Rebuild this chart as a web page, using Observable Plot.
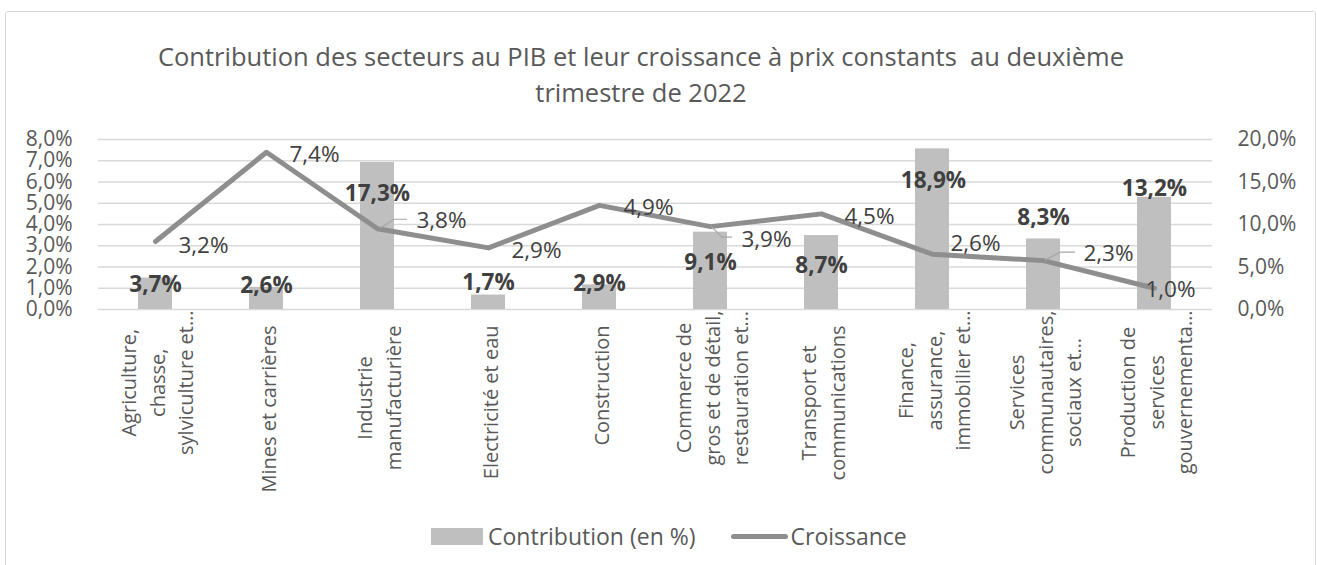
<!DOCTYPE html>
<html>
<head>
<meta charset="utf-8">
<script src="https://cdn.jsdelivr.net/npm/d3@7"></script>
<script src="https://cdn.jsdelivr.net/npm/@observablehq/plot@0.6"></script>
<style>
html, body { margin: 0; padding: 0; background: #fff; overflow: hidden; }
#wrap { position: relative; width: 1317px; height: 565px; font-family: 'Open Sans', sans-serif; }
#frame { position: absolute; left: 5px; top: 11px; width: 1311px; height: 620px; border: 1px solid #d9d9d9; border-radius: 3px; box-sizing: border-box; }
#chart { position: absolute; left: 0; top: 0; }
#title { position: absolute; left: 0; top: 38px; width: 1282px; text-align: center; font-size: 25.5px; line-height: 36px; color: #595959; white-space: pre; }
#legend { position: absolute; left: 431px; top: 522px; display: flex; align-items: center; font-size: 23px; line-height: 28px; color: #595959; white-space: nowrap; }
.sw-bar { width: 52px; height: 17px; background: #bfbfbf; margin-right: 5px; }
.sw-line { width: 57px; height: 5px; border-radius: 3px; background: #8e8e8e; margin-left: 35px; margin-right: 3px; }
</style>
</head>
<body>
<div id="wrap">
  <div id="frame"></div>
  <div id="chart"></div>
  <div id="title"></div>
  <div id="legend"></div>
</div>
<script>
// ---------- data ----------
const titleText = "Contribution des secteurs au PIB et leur croissance à prix constants  au deuxième\ntrimestre de 2022";
const sectors = [
  "Agriculture,\nchasse,\nsylviculture et…",
  "Mines et carrières",
  "Industrie\nmanufacturière",
  "Electricité et eau",
  "Construction",
  "Commerce de\ngros et de détail,\nrestauration et…",
  "Transport et\ncommunications",
  "Finance,\nassurance,\nimmobilier et…",
  "Services\ncommunautaires,\nsociaux et…",
  "Production de\nservices\ngouvernementa…"
];
const contribution = [3.7, 2.6, 17.3, 1.7, 2.9, 9.1, 8.7, 18.9, 8.3, 13.2]; // right axis
const croissance = [3.2, 7.4, 3.8, 2.9, 4.9, 3.9, 4.5, 2.6, 2.3, 1.0];       // left axis
const leftTicks = [0, 1, 2, 3, 4, 5, 6, 7, 8];
const rightTicks = [0, 5, 10, 15, 20];
const seriesNames = ["Contribution (en %)", "Croissance"];

// ---------- layout / style (not data) ----------
const W = 1317, H = 565;
const M = {top: 139, right: 105, bottom: 256, left: 98};
const BAR = "#bfbfbf", LINE = "#8e8e8e", GRID = "#d9d9d9", AXIS_TXT = "#595959", LBL = "#404040";
const FONT = "'Open Sans', sans-serif";
const TICK_FS = 21, LBL_FS = 22.5, X_FS = 20;
// label offsets relative to their anchor (bar top / line point), in px
const barLabelOffsets = [[0,7],[0,-2],[0,31],[0,-12],[0,-1],[0,31],[0,30],[1,32],[0,-21],[0,-9]];
const lineLabelOffsets = [[48,4],[48,3],[64,-8],[48,3],[49,2],[56,13],[48,3],[43,-10],[65,-7],[16,2]];
const leaderPaths = {2: [[3,0],[17,-9],[30,-9]], 5: [[1,0],[12,11],[22,11]], 8: [[2,0],[17,-8],[32,-8]]};

const ratio = leftTicks[leftTicks.length - 1] / rightTicks[rightTicks.length - 1];
const fmt = v => v.toFixed(1).replace(".", ",") + "%";
const data = sectors.map((s, i) => ({sector: s, contribution: contribution[i], croissance: croissance[i]}));

// x labels: measure longest line so the block hangs below the axis, lines centred
const ctx = document.createElement("canvas").getContext("2d");
ctx.font = `${X_FS}px 'Open Sans'`;
const xLabelMarks = sectors.map(s => {
  const lines = s.split("\n");
  const maxW = Math.max(...lines.map(l => ctx.measureText(l).width));
  const truncated = s.endsWith("…");
  const top = truncated ? 1 : 16;
  return Plot.text([s], {
    x: d => d, frameAnchor: "bottom", rotate: -90, textAnchor: "middle", lineAnchor: "middle",
    lineHeight: 1.42, fontSize: X_FS, fill: AXIS_TXT, dy: top + maxW / 2
  });
});

const barLabelMarks = data.map((d, i) => Plot.text([d], {
  x: "sector", y: r => r.contribution * ratio, text: r => fmt(r.contribution),
  dx: barLabelOffsets[i][0], dy: barLabelOffsets[i][1],
  fontSize: LBL_FS, fontWeight: "bold", fill: LBL, textAnchor: "middle"
}));
const lineLabelMarks = data.map((d, i) => Plot.text([d], {
  x: "sector", y: "croissance", text: r => fmt(r.croissance),
  dx: lineLabelOffsets[i][0], dy: lineLabelOffsets[i][1],
  fontSize: LBL_FS, fill: LBL, textAnchor: "middle"
}));

// leader lines for some line labels (drawn through the scales)
function leaders(index, scales) {
  const sx = scales.x, sy = scales.y;
  const half = sx.bandwidth ? sx.bandwidth() / 2 : 0;
  const g = d3.create("svg:g");
  Object.entries(leaderPaths).forEach(([k, pts]) => {
    const d = data[+k];
    const x0 = sx(d.sector) + half, y0 = sy(d.croissance);
    g.append("path")
      .attr("d", d3.line()(pts.map(([dx, dy]) => [x0 + dx, y0 + dy])))
      .attr("fill", "none").attr("stroke", "#a6a6a6").attr("stroke-width", 1.2);
  });
  return g.node();
}

const chart = Plot.plot({
  width: W, height: H,
  marginTop: M.top, marginRight: M.right, marginBottom: M.bottom, marginLeft: M.left,
  style: {fontFamily: FONT, background: "transparent", overflow: "visible"},
  x: {domain: sectors, paddingInner: 0.69, paddingOuter: 0.345, axis: null},
  y: {domain: [0, leftTicks[leftTicks.length - 1]], axis: null},
  marks: [
    Plot.gridY(leftTicks, {stroke: GRID, strokeOpacity: 1, strokeWidth: 1.3}),
    Plot.axisY(leftTicks, {anchor: "left", label: null, tickSize: 0, tickPadding: 26, tickFormat: fmt,
      fontSize: TICK_FS, fill: AXIS_TXT}),
    Plot.axisY(rightTicks.map(t => t * ratio), {anchor: "right", label: null, tickSize: 0, tickPadding: 25,
      tickFormat: t => fmt(t / ratio), fontSize: TICK_FS, fill: AXIS_TXT}),
    Plot.barY(data, {x: "sector", y: d => d.contribution * ratio, fill: BAR}),
    Plot.line(data, {x: "sector", y: "croissance", stroke: LINE, strokeWidth: 5, strokeLinejoin: "round", strokeLinecap: "round"}),
    leaders,
    ...xLabelMarks,
    ...lineLabelMarks,
    ...barLabelMarks
  ]
});
document.getElementById("chart").appendChild(chart);

document.getElementById("title").textContent = titleText;
const lg = document.getElementById("legend");
lg.innerHTML = `<div class="sw-bar"></div><span>${seriesNames[0]}</span><div class="sw-line"></div><span>${seriesNames[1]}</span>`;
</script>
</body>
</html>
